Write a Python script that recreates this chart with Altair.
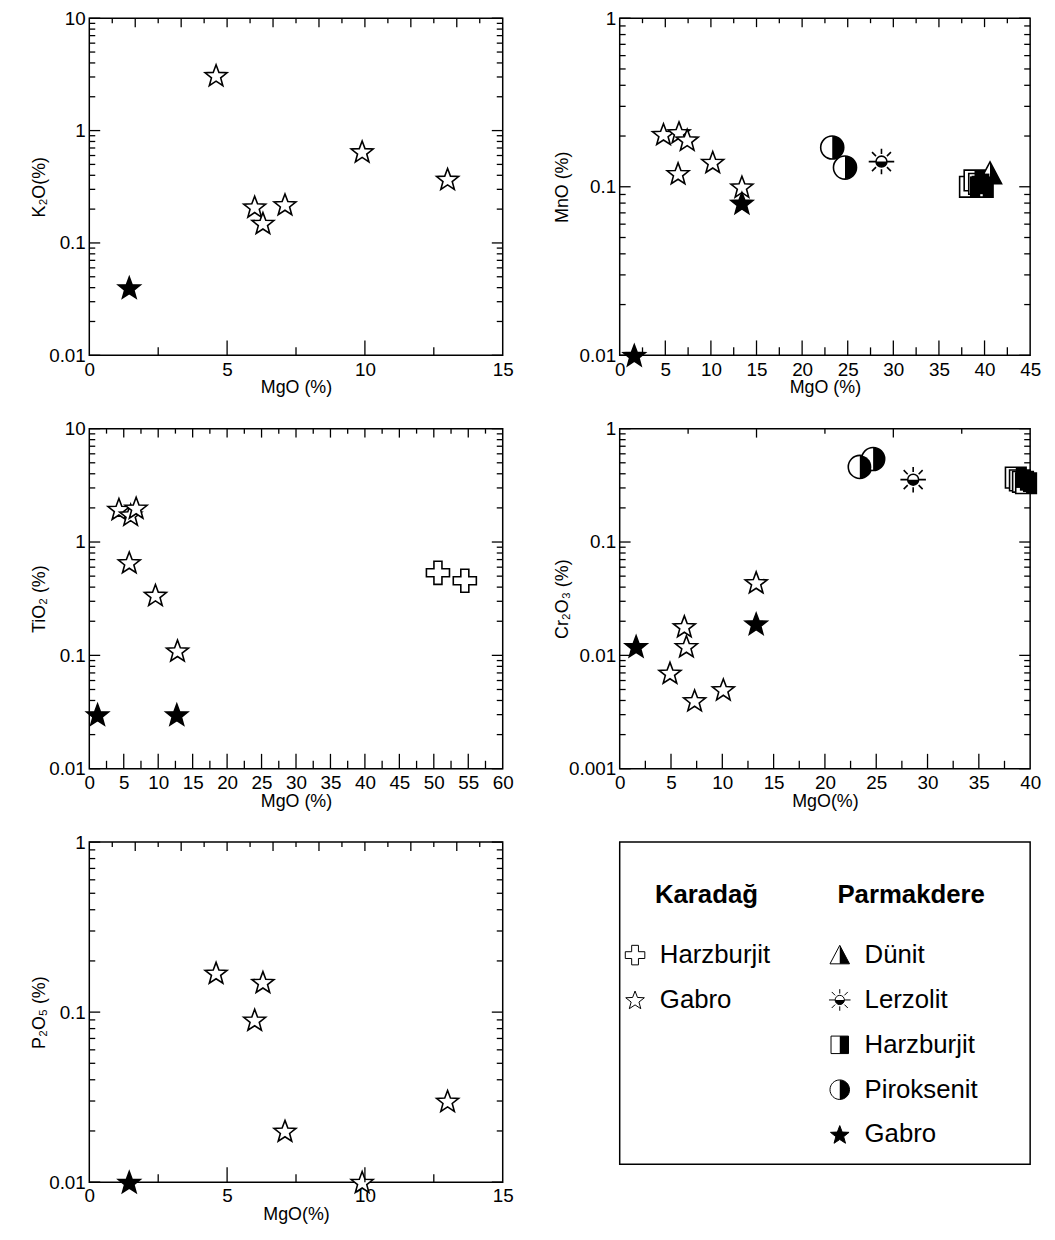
import math
import altair as alt
import pandas as pd

# ---------------- data ----------------
# group codes: KH Karadağ Harzburjit, KG Karadağ Gabro,
# PD Parmakdere Dünit, PL Lerzolit, PH Harzburjit, PP Piroksenit, PG Gabro
k2o_mgo = [4.6, 9.9, 13.0, 6.0, 6.3, 7.1, 1.45]
k2o_val = [3.1, 0.65, 0.37, 0.21, 0.15, 0.22, 0.04]
k2o_typ = ["KG", "KG", "KG", "KG", "KG", "KG", "PG"]

mno_mgo = [4.8, 6.5, 7.4, 6.4, 10.2, 13.4, 13.4, 1.6, 23.3, 24.7, 28.7, 38.4, 38.9, 39.4, 39.8, 40.6]
mno_val = [0.205, 0.21, 0.19, 0.12, 0.14, 0.10, 0.08, 0.01, 0.171, 0.13, 0.141, 0.10, 0.109, 0.104, 0.10, 0.12]
mno_typ = ["KG"] * 6 + ["PG", "PG", "PP", "PP", "PL", "PH", "PH", "PH", "PH", "PD"]

tio2_mgo = [4.3, 6.0, 6.8, 5.8, 9.6, 12.8, 1.2, 12.7, 50.6, 54.5]
tio2_val = [1.95, 1.74, 2.0, 0.66, 0.34, 0.11, 0.03, 0.03, 0.535, 0.455]
tio2_typ = ["KG"] * 6 + ["PG", "PG", "KH", "KH"]

cr_mgo = [6.3, 6.5, 4.9, 7.3, 10.1, 13.3, 1.6, 13.3, 23.4, 24.7, 28.6, 38.6, 39.0, 39.3, 39.6]
cr_val = [0.018, 0.012, 0.007, 0.004, 0.005, 0.044, 0.012, 0.019, 0.46, 0.54, 0.355, 0.37, 0.35, 0.34, 0.33]
cr_typ = ["KG"] * 6 + ["PG", "PG", "PP", "PP", "PL", "PH", "PH", "PH", "PH"]

p_mgo = [4.6, 6.3, 6.0, 13.0, 7.1, 9.9, 1.45]
p_val = [0.17, 0.15, 0.09, 0.03, 0.02, 0.01, 0.01]
p_typ = ["KG"] * 6 + ["PG"]

leg_headers = ["Karadağ", "Parmakdere"]
leg_col = [0, 0, 1, 1, 1, 1, 1]
leg_row = [1, 2, 1, 2, 3, 4, 5]
leg_typ = ["KH", "KG", "PD", "PL", "PH", "PP", "PG"]
leg_label = ["Harzburjit", "Gabro", "Dünit", "Lerzolit", "Harzburjit", "Piroksenit", "Gabro"]

# ---------------- symbol shapes ----------------
def _poly(points):
    return "M" + "L".join(f"{x:.3f},{y:.3f}" for x, y in points) + "Z"

def star_path(R=0.95, r=0.4):
    pts = []
    for k in range(10):
        a = math.radians(-90 + 36 * k)
        rr = R if k % 2 == 0 else r
        pts.append((rr * math.cos(a), rr * math.sin(a) + 0.08))
    return _poly(pts)

def circle_path(r):
    return f"M{r},0A{r},{r},0,1,1,{-r},0A{r},{r},0,1,1,{r},0Z"

STAR = star_path()
CROSS = _poly([(-0.33, -0.95), (0.33, -0.95), (0.33, -0.33), (0.95, -0.33), (0.95, 0.33),
               (0.33, 0.33), (0.33, 0.95), (-0.33, 0.95), (-0.33, 0.33), (-0.95, 0.33),
               (-0.95, -0.33), (-0.33, -0.33)])
TRI = "M0,-0.95L0.95,0.85L-0.95,0.85Z"
TRI_R = "M0,-0.95L0.95,0.85L0,0.85Z"
SUN = (circle_path(0.45) + "M-1.05,0L-0.45,0M0.45,0L1.05,0M0,-1.05L0,-0.62M0,0.62L0,1.05"
       "M-0.78,-0.78L-0.45,-0.45M0.78,-0.78L0.45,-0.45M-0.78,0.78L-0.45,0.45M0.78,0.78L0.45,0.45")
SUN_F = "M-0.45,0A0.45,0.45,0,0,0,0.45,0Z"
SQ = "M-0.85,-0.85L0.85,-0.85L0.85,0.85L-0.85,0.85Z"
SQ_R = "M0,-0.85L0.85,-0.85L0.85,0.85L0,0.85Z"
CIR = circle_path(0.95)
CIR_R = "M0,-0.95A0.95,0.95,0,0,1,0,0.95Z"

TYPES = ["KH", "KG", "PD", "PL", "PH", "PP", "PG"]
OUTLINE = [CROSS, STAR, TRI, SUN, SQ, CIR, STAR]
FILLED = ["PD", "PL", "PH", "PP", "PG"]
FILLS = [TRI_R, SUN_F, SQ_R, CIR_R, STAR]

FONT = "Liberation Sans"


def symbols(base, x, y, size, sw):
    outline = base.mark_point(filled=True, fill="white", stroke="black", strokeWidth=sw,
                              size=size, opacity=1).encode(
        x=x, y=y,
        shape=alt.Shape("typ:N", scale=alt.Scale(domain=TYPES, range=OUTLINE), legend=None))
    fill = base.transform_filter(alt.FieldOneOfPredicate(field="typ", oneOf=FILLED)).mark_point(
        filled=True, fill="black", strokeWidth=0, size=size, opacity=1).encode(
        x=x, y=y,
        shape=alt.Shape("typ:N", scale=alt.Scale(domain=FILLED, range=FILLS), legend=None))
    return [outline, fill]


def panel(mgo, val, typ, xdom, step, xmin, txmaj, txmin, ydom, xtitle, ytitle, W, H, title_x):
    df = pd.DataFrame({"mgo": mgo, "val": val, "typ": typ})
    xs = alt.Scale(domain=xdom, nice=False, zero=False)
    ys = alt.Scale(type="log", domain=ydom, nice=False)
    e0 = round(math.log10(ydom[0]))
    e1 = round(math.log10(ydom[1]))
    ymaj = [10.0 ** e for e in range(e0, e1 + 1)]
    ymin = [k * 10.0 ** e for e in range(e0, e1) for k in range(2, 10)]
    xlab = list(range(xdom[0], xdom[1] + 1, step))
    xmaj = xlab[1:-1]
    base = alt.Chart(df)

    # one axis definition, repeated identically in every layer so the layers merge cleanly
    xaxis = alt.Axis(orient="bottom", values=xlab, ticks=False, domain=False, grid=False,
                     title=xtitle, format="d", labelFlush=False, labelOverlap=False,
                     labelPadding=5, titlePadding=0)
    yaxis = alt.Axis(orient="left", values=ymaj, ticks=False, domain=False, grid=False,
                     title=ytitle, format="~g", labelOverlap=False, labelPadding=4,
                     titleX=title_x, titleY=H / 2, titleAngle=-90, titleBaseline="middle",
                     titleAlign="center")
    x = alt.X("mgo:Q", scale=xs, axis=xaxis)
    y = alt.Y("val:Q", scale=ys, axis=yaxis)

    # inward tick marks on all four sides, placed through the panel scales
    def xr(vals, y0, y1):
        return alt.Chart(pd.DataFrame({"mgo": vals})).mark_rule(
            color="black", strokeWidth=1.3).encode(x=x, y=alt.value(y0), y2=alt.value(y1))

    def yr(vals, x0, x1):
        return alt.Chart(pd.DataFrame({"val": vals})).mark_rule(
            color="black", strokeWidth=1.3).encode(y=y, x=alt.value(x0), x2=alt.value(x1))

    ticks = [
        xr(xmaj, H, H - 15), xr(xmin, H, H - 8),
        xr(txmaj, 0, 9), xr(txmin, 0, 5),
        yr(ymaj, 0, 11), yr(ymin, 0, 6),
        yr(ymaj, W, W - 11), yr(ymin, W, W - 6),
    ]
    return alt.layer(*symbols(base, x, y, 600, 1.6), *ticks).resolve_scale(
        shape="independent").properties(width=W, height=H)


def steps(a, b, n):
    return [a + (b - a) * k / n for k in range(1, n)]


def halves(a, b, n):
    return [a + (b - a) * (2 * k + 1) / (2 * n) for k in range(n)]


p1 = panel(k2o_mgo, k2o_val, k2o_typ, [0, 15], 5, [2.5, 7.5, 12.5],
           steps(0, 15, 9), halves(0, 15, 9), [0.01, 10], "MgO (%)", "K₂O(%)", 417, 340, -50)
p2 = panel(mno_mgo, mno_val, mno_typ, [0, 45], 5, [2.5 + 5 * k for k in range(9)],
           [5 * k for k in range(1, 9)], [2.5 + 5 * k for k in range(9)], [0.01, 1],
           "MgO (%)", "MnO (%)", 414, 340, -58)
p3 = panel(tio2_mgo, tio2_val, tio2_typ, [0, 60], 5, [2.5 + 5 * k for k in range(12)],
           [5 * k for k in range(1, 12)], [2.5 + 5 * k for k in range(12)], [0.01, 10],
           "MgO (%)", "TiO₂ (%)", 417, 343, -50)
p4 = panel(cr_mgo, cr_val, cr_typ, [0, 40], 5, [2.5 + 5 * k for k in range(8)],
           steps(0, 40, 3), halves(0, 40, 3), [0.001, 1], "MgO(%)", "Cr₂O₃ (%)", 414, 343, -58)
p5 = panel(p_mgo, p_val, p_typ, [0, 15], 5, [2.5, 7.5, 12.5],
           steps(0, 15, 9), halves(0, 15, 9), [0.01, 1], "MgO(%)", "P₂O₅ (%)", 417, 343, -50)

# ---------------- legend panel ----------------
LW, LH = 414, 325
leg_df = pd.DataFrame({"col": leg_col, "row": leg_row, "typ": leg_typ, "label": leg_label})
head_df = pd.DataFrame({"col": [0, 1], "row": [0, 0], "label": leg_headers})
LX = alt.Scale(domain=[-0.075, 1.93], nice=False, zero=False)
LY = alt.Scale(domain=[-1.519, 5.663], nice=False, zero=False, reverse=True)
lx = alt.X("col:Q", scale=LX, axis=None)
ly = alt.Y("row:Q", scale=LY, axis=None)
lbase = alt.Chart(leg_df)
leg_text = lbase.mark_text(align="left", baseline="middle", dx=25, fontSize=26,
                           font=FONT, color="black").encode(x=lx, y=ly, text="label:N")
leg_head = alt.Chart(head_df).mark_text(align="center", baseline="middle", dx=72, dy=-15,
                                        fontSize=26, fontWeight="bold", font=FONT,
                                        color="black").encode(x=lx, y=ly, text="label:N")
legend = alt.layer(*symbols(lbase, lx, ly, 430, 1.0), leg_text, leg_head).resolve_scale(
    shape="independent").properties(width=LW, height=LH)

chart = alt.concat(p1, p2, p3, p4, p5, legend, columns=2,
                   spacing={"row": 21, "column": 38}).configure_view(
    stroke="black", strokeWidth=1.5).configure_axis(
    labelFont=FONT, titleFont=FONT, labelFontSize=19, titleFontSize=18,
    labelColor="black", titleColor="black", titleFontWeight="normal",
    labelOverlap=False, labelFlush=False).properties(
    padding={"left": 22, "top": -5, "right": 5, "bottom": 5}, background="white")

chart.save("out.html", embed_options={"renderer": "svg", "actions": False})
